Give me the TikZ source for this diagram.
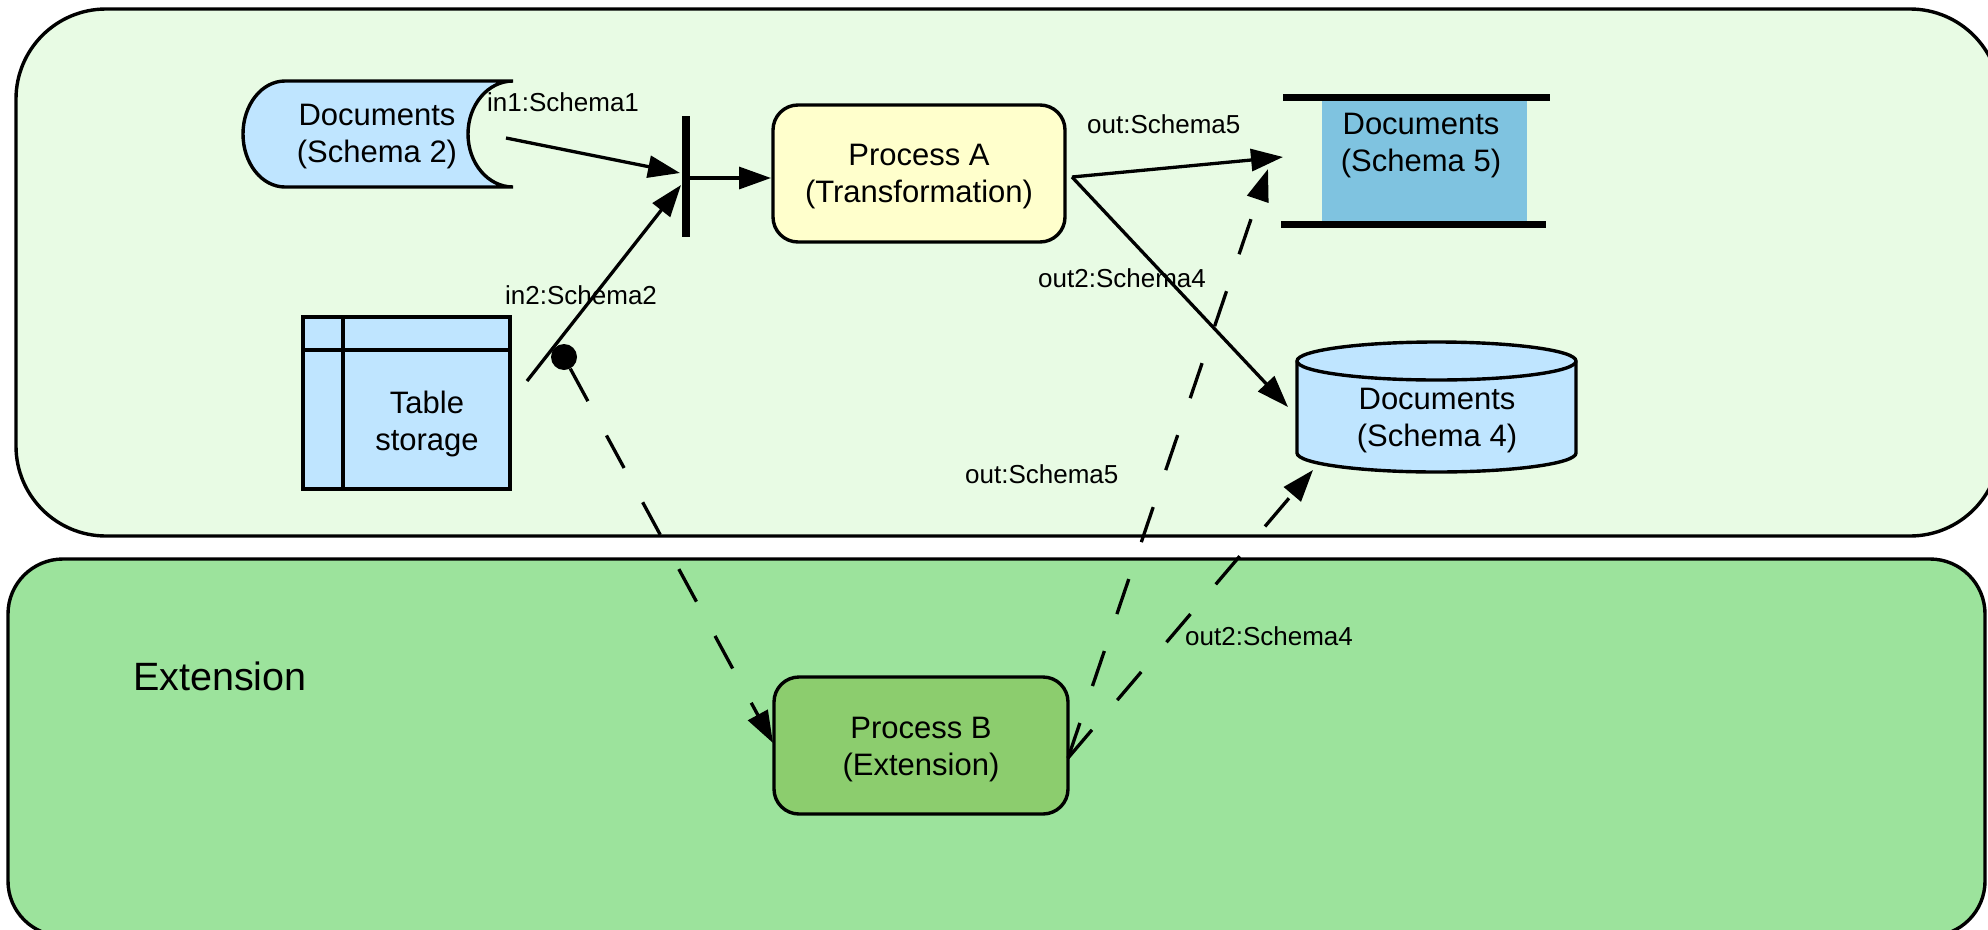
\documentclass[tikz,border=0pt]{standalone}
\usepackage{fontspec}
\setmainfont{Liberation Sans}
\usetikzlibrary{arrows.meta}
\definecolor{panelTop}{HTML}{E8FBE4}
\definecolor{panelExt}{HTML}{9CE39C}
\definecolor{docBlue}{HTML}{BFE5FF}
\definecolor{deepBlue}{HTML}{7FC3E0}
\definecolor{procYellow}{HTML}{FFFFCC}
\definecolor{procGreen}{HTML}{8CCD6E}

\begin{document}
\begin{tikzpicture}[x=1pt,y=-1pt,
  outline/.style={draw=black, line width=3.4pt},
  flow/.style={line width=3.3pt, -{Triangle[length=32pt,width=22pt]}},
  dashflow/.style={flow, dash pattern=on 37pt off 39pt},
  nodetext/.style={font=\fontsize{31}{37}\selectfont, align=center, inner sep=0pt},
  portlabel/.style={font=\fontsize{26}{30}\selectfont, anchor=base west, inner sep=0pt},
  procbox/.style={outline, rounded corners=25pt}
]
\useasboundingbox (0,0) rectangle (1988,929);
\clip (0,0) rectangle (1988,929);
\fill[white] (0,0) rectangle (1988,929);

% swim lanes
\draw[outline, fill=panelTop, rounded corners=90pt] (16,9) rectangle (2000,536);
\draw[outline, fill=panelExt, rounded corners=55pt] (8,559) rectangle (1985,936);
\node[font=\fontsize{39.5}{45}\selectfont, anchor=base west, inner sep=0pt] (extTitle) at (133,690) {Extension};

% Documents (Schema 2): stored-data shape
\draw[outline, fill=docBlue] (513,81) -- (285,81)
  .. controls (261.8,81) and (243,104.7) .. (243,134)
  .. controls (243,163.3) and (261.8,187) .. (285,187)
  -- (513,187)
  .. controls (488.1,187) and (468,163.3) .. (468,134)
  .. controls (468,104.7) and (488.1,81) .. (513,81) -- cycle;
\node[nodetext] (docs2) at (377,137) {Documents\\(Schema 2)};

% Table storage
\draw[outline, fill=docBlue] (303,317) rectangle (510,489);
\draw[outline] (303,350) -- (510,350);
\draw[outline] (343,317) -- (343,489);
\node[nodetext] (table) at (427,424) {Table\\storage};

% join bar
\coordinate (barTop) at (686,116);
\coordinate (barBot) at (686,237);
\draw[line width=8pt] (barTop) -- (barBot);

% Process A
\draw[procbox, fill=procYellow] (773,105) rectangle (1065,242);
\node[nodetext] (pA) at (919,177) {Process A\\(Transformation)};

% Documents (Schema 5): data store between two bars
\fill[deepBlue] (1322,97) rectangle (1527,224);
\draw[line width=7pt] (1283,97) -- (1550,97);
\draw[line width=7pt] (1281,224) -- (1546,224);
\node[nodetext] (docs5) at (1421,146) {Documents\\(Schema 5)};

% Documents (Schema 4): cylinder
\draw[outline, fill=docBlue] (1297,361) -- (1297,453)
  .. controls (1297,463.49) and (1359.46,472) .. (1436.5,472)
  .. controls (1513.54,472) and (1576,463.49) .. (1576,453)
  -- (1576,361)
  .. controls (1576,350.51) and (1513.54,342) .. (1436.5,342)
  .. controls (1359.46,342) and (1297,350.51) .. (1297,361) -- cycle;
\draw[outline] (1297,361)
  .. controls (1297,371.49) and (1359.46,380) .. (1436.5,380)
  .. controls (1513.54,380) and (1576,371.49) .. (1576,361);
\node[nodetext] (docs4) at (1437,420.5) {Documents\\(Schema 4)};

% Process B
\draw[procbox, fill=procGreen] (774,677) rectangle (1068,814);
\node[nodetext] (pB) at (921,750) {Process B\\(Extension)};

% connector end points
\coordinate (d2-out) at (506,138);
\coordinate (bar-in1) at (680,173);
\coordinate (ts-out) at (527,381);
\coordinate (bar-in2) at (681,185);
\coordinate (bar-out) at (690,178);
\coordinate (pA-in) at (771,178);
\coordinate (pA-out) at (1072,177);
\coordinate (d5-in) at (1283,157);
\coordinate (d4-in) at (1288,407);
\coordinate (pB-in) at (773,743);
\coordinate (pB-out) at (1068,758);
\coordinate (d5-ext) at (1268,169);
\coordinate (d4-ext) at (1313,470);

% port labels
\node[portlabel] (lblIn1) at (487,111) {in1:Schema1};
\node[portlabel] (lblIn2) at (505,304) {in2:Schema2};
\node[portlabel] (lblOut5) at (1087,133) {out:Schema5};
\node[portlabel] (lblOut4) at (1038,287) {out2:Schema4};
\node[portlabel] (lblExt5) at (965,483) {out:Schema5};
\node[portlabel] (lblExt4) at (1185,645) {out2:Schema4};

% main flow
\draw[flow] (d2-out) -- (bar-in1);
\draw[flow] (ts-out) -- (bar-in2);
\draw[flow] (bar-out) -- (pA-in);
\draw[flow] (pA-out) -- (d5-in);
\draw[flow] (pA-out) -- (d4-in);

% extension flow
\node[circle, fill=black, inner sep=0pt, minimum size=26pt] (dot) at (564,357) {};
\draw[dashflow] (dot) -- (pB-in);
\draw[dashflow] (pB-out) -- (d5-ext);
\draw[dashflow] (pB-out) -- (d4-ext);
\end{tikzpicture}
\end{document}
